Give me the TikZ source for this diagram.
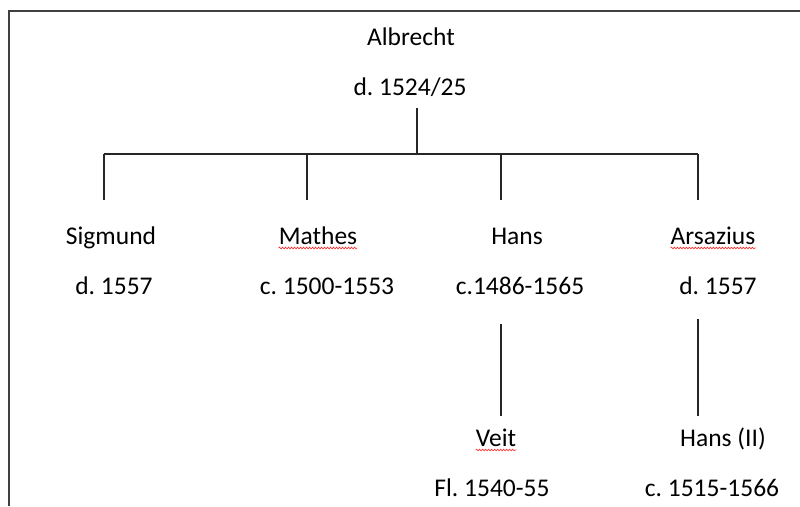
\documentclass[tikz,border=0pt]{standalone}
\usepackage{fontspec}
\setmainfont{Carlito}
\usetikzlibrary{decorations.pathmorphing}
\frenchspacing

\begin{document}
\begin{tikzpicture}[x=1pt, y=-1pt,
        person/.style={anchor=base, inner sep=0pt, font=\fontsize{25.5}{30}\selectfont},
        branch/.style={line width=1.2pt, black!85},
        spellmark/.style={red!85, line width=0.6pt, decorate,
            decoration={snake, amplitude=0.9pt, segment length=3pt}}]
            \useasboundingbox (0,0) rectangle (800,506);
            \draw[line width=1.8pt, black!75] (9.3,506) -- (9.3,10.7) -- (800,10.7);
            % names and dates
            \node[person] (albrecht) at (411,45) {Albrecht};
            \node[person] (albrechtd) at (410,95) {d. 1524/25};
            \node[person] (sigmund) at (111,244) {Sigmund};
            \node[person] (sigmundd) at (114,294) {d. 1557};
            \node[person] (mathes) at (318,244) {Mathes};
            \node[person] (mathesd) at (327,294) {c. 1500-1553};
            \node[person] (hans) at (517,244) {Hans};
            \node[person] (hansd) at (520,294) {c.1486-1565};
            \node[person] (arsazius) at (713,244) {Arsazius};
            \node[person] (arsaziusd) at (718,294) {d. 1557};
            \node[person] (veit) at (496,446) {Veit};
            \node[person] (veitd) at (492,496) {Fl. 1540-55};
            \node[person] (hansii) at (723,446) {Hans (II)};
            \node[person] (hansiid) at (712,496) {c. 1515-1566};
            \foreach \n in {mathes, arsazius, veit}
                \draw[spellmark] ([yshift=-4pt]\n.base west) -- ([yshift=-4pt]\n.base east);
            % lines of descent
            \coordinate (stem) at (417,108);
            \coordinate (fork) at (417,154);
            \coordinate (forkl) at (104,154);
            \coordinate (forkr) at (698,154);
            \draw[branch] (stem) -- (fork);
            \draw[branch] (forkl) -- (forkr);
            \foreach \x/\n in {104/s, 307/m, 501/h, 698/a} {
                \coordinate (drop\n) at (\x,154);
                \coordinate (foot\n) at (\x,200);
                \draw[branch] (drop\n) -- (foot\n);
            }
            \coordinate (hanstop) at (501,324);
            \coordinate (hansend) at (501,416);
            \coordinate (arsaziustop) at (698,319);
            \coordinate (arsaziusend) at (698,416);
            \draw[branch] (hanstop) -- (hansend);
            \draw[branch] (arsaziustop) -- (arsaziusend);
        \end{tikzpicture}
\end{document}
